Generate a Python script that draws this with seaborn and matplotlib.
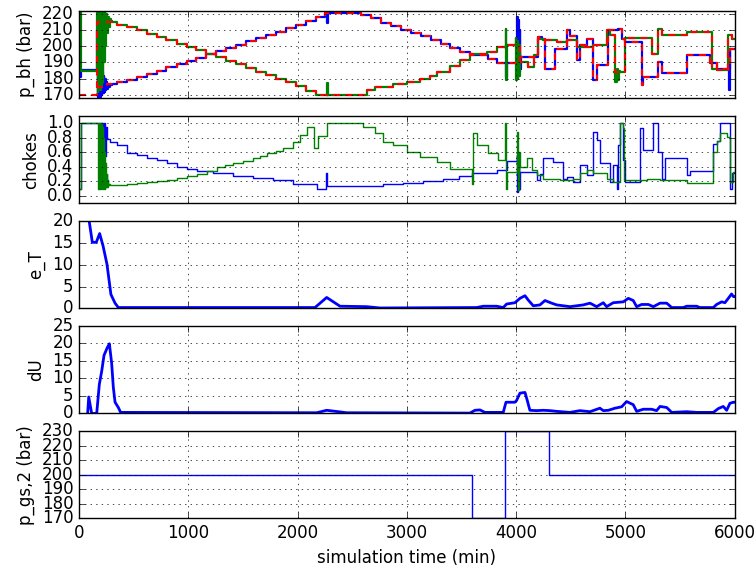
import matplotlib
matplotlib.use("Agg")
import matplotlib.pyplot as plt
import seaborn as sns

# ---------------------------------------------------------------- data
# bottom-hole pressure setpoints, well 1 and well 2 (min, bar), piecewise constant
sp1_t = [0, 165, 255, 345, 440, 530, 620, 710, 800, 895,
         985, 1075, 1165, 1255, 1345, 1440, 1530, 1620, 1710, 1800,
         1895, 1985, 2075, 2165, 2255, 2585, 2675, 2765, 2855, 2945,
         3040, 3130, 3220, 3310, 3400, 3490, 3580, 3747, 3823, 4040,
         4205, 4235, 4265, 4357, 4464, 4494, 4555, 4586, 4647, 4708,
         4738, 4845, 4937, 4967, 4999, 5150, 5165, 5303, 5333, 5562,
         5776, 5837, 5960, 6000]
sp1_v = [170, 175, 176.5, 178, 179.5, 181, 183, 185, 187, 189,
         191, 193, 195, 197, 199, 201, 203, 205, 207, 209,
         211, 213, 215.5, 218, 220.5, 219, 217, 214.5, 212.5, 210,
         208, 206, 203.5, 201.5, 199, 196.5, 194.5, 192.4, 189.4, 193.5,
         205.7, 204.7, 186.3, 198.5, 209.8, 206, 191.4, 200.6, 204.7, 179.2,
         188.4, 209.8, 210.8, 204.7, 202.6, 176.1, 181.2, 190, 183.3, 194.5,
         189.4, 186.3, 198.5, 198.5]

sp2_t = [0, 165, 255, 345, 440, 530, 620, 710, 800, 895,
         985, 1075, 1165, 1255, 1345, 1440, 1530, 1620, 1710, 1800,
         1895, 1985, 2075, 2165, 2640, 2710, 2785, 2877, 2999, 3121,
         3212, 3273, 3395, 3490, 3580, 3732, 3823, 3915, 4037, 4113,
         4160, 4205, 4250, 4372, 4464, 4555, 4708, 4830, 4860, 4906,
         4998, 5242, 5303, 5333, 5562, 5791, 5837, 5944, 5974, 6000]
sp2_v = [170, 215, 214.9, 213.3, 211.8, 209.8, 207.7, 205.6, 203.6, 201.6,
         199.5, 197.5, 195.3, 193.2, 191, 188.8, 186.6, 184.4, 182.2, 180,
         177.8, 175.4, 172.8, 170, 173, 175.1, 175.1, 176.5, 178.1, 180,
         182, 184.3, 188, 191.4, 195.5, 196.5, 199.6, 200.6, 190, 187.3,
         194.5, 204.7, 203.7, 202.6, 203.7, 199.6, 200.6, 209.8, 206.7, 184.3,
         205, 195.5, 210.8, 206.7, 208.8, 186.3, 185.3, 206.7, 204.7, 204.7]

# measured bottom-hole pressure during start-up (before the controller settles)
start1_t = [0, 10, 20, 165, 172, 178, 184, 190, 196, 202, 208, 214,
            220, 226, 232, 238, 244, 250, 258, 266, 274, 282, 290, 300]
start1_v = [222, 181, 185.3, 210, 169, 188, 168, 187, 169, 186, 170, 184,
            171, 182, 172, 180, 173, 178, 174, 177, 175, 176.5, 176, 176.5]
start2_t = [0, 18, 165, 170, 176, 182, 188, 194, 200, 206, 212, 218,
            224, 230, 236, 242, 248, 254, 262, 270, 280, 290, 300]
start2_v = [222, 185, 222, 172, 222, 174, 222, 173, 222, 176, 222, 178,
            221, 190, 221, 200, 220, 208, 218, 212, 216.5, 215.5, 214.9]

# short measured excursions away from the setpoint
spikes1_t = [[2266, 2270, 2282],
             [3904, 3908, 3914],
             [4004, 4010, 4016, 4022, 4028, 4034, 4040, 4046],
             [5944, 5952, 5960]]
spikes1_v = [[220.5, 214, 220.5],
             [189.4, 181, 189.4],
             [189.4, 218, 181, 216, 184, 210, 186, 193.5],
             [186.3, 173, 198.5]]
spikes2_t = [[2266, 2270, 2282],
             [3900, 3905, 3910, 3915],
             [3991, 3997, 4003, 4009, 4015, 4021, 4027, 4033, 4039],
             [4900, 4910, 4920, 4930, 4940, 4950]]
spikes2_v = [[170, 177.5, 170],
             [199.6, 210.8, 179, 200.6],
             [200.6, 205, 179, 203, 180, 200, 182, 195, 190],
             [184.3, 178, 186, 179, 185, 184.3]]

# choke openings
u1_t = [0, 15, 190, 198, 206, 214, 222, 230, 238, 246,
        254, 284, 345, 437, 528, 619, 711, 803, 894, 985,
        1077, 1230, 1413, 1596, 1779, 1962, 2175, 2262, 2270, 2785,
        2968, 3151, 3334, 3480, 3600, 3823, 3914, 4006, 4011, 4016,
        4021, 4026, 4031, 4036, 4189, 4220, 4250, 4341, 4433, 4463,
        4524, 4585, 4646, 4707, 4738, 4768, 4860, 4890, 4920, 4935,
        4950, 4975, 4997, 5135, 5165, 5257, 5303, 5333, 5364, 5562,
        5593, 5806, 5836, 5867, 5958, 5973, 6000]
u1_v = [0.1, 1.0, 0.6, 1.0, 0.35, 1.0, 0.5, 1.0, 0.55, 0.95,
        0.78, 0.747, 0.70, 0.596, 0.564, 0.518, 0.495, 0.45, 0.403, 0.371,
        0.344, 0.312, 0.275, 0.243, 0.22, 0.165, 0.10, 0.31, 0.137, 0.165,
        0.183, 0.21, 0.237, 0.28, 0.31, 0.355, 0.48, 0.56, 0.05, 0.5,
        0.09, 0.45, 0.1, 0.33, 0.217, 0.30, 0.516, 0.47, 0.24, 0.26,
        0.194, 0.424, 0.286, 0.885, 0.77, 0.447, 0.194, 0.42, 0.1, 0.70,
        1.0, 0.5, 0.194, 0.93, 0.63, 1.0, 0.61, 0.24, 0.516, 0.286,
        0.34, 0.72, 0.75, 1.0, 0.1, 0.31, 0.31]

u2_t = [0, 15, 177, 182, 187, 192, 197, 202, 207, 212,
        217, 222, 227, 232, 237, 242, 247, 252, 257, 262,
        268, 275, 284, 345, 437, 528, 619, 711, 803, 894,
        985, 1077, 1168, 1260, 1340, 1413, 1500, 1596, 1660, 1718,
        1800, 1871, 1962, 2023, 2084, 2150, 2185, 2267, 2600, 2709,
        2785, 2877, 2999, 3121, 3273, 3396, 3594, 3609, 3640, 3746,
        3838, 3899, 3905, 3914, 4006, 4016, 4026, 4036, 4097, 4143,
        4189, 4250, 4402, 4524, 4585, 4646, 4707, 4830, 4890, 4951,
        4975, 4987, 5196, 5318, 5562, 5806, 5836, 5867, 5928, 5958,
        5988, 6000]
u2_v = [0.1, 1.0, 0.1, 1.0, 0.1, 1.0, 0.1, 1.0, 0.1, 0.95,
        0.1, 0.8, 0.1, 0.6, 0.1, 0.45, 0.12, 0.3, 0.13, 0.22,
        0.15, 0.17, 0.15, 0.155, 0.165, 0.178, 0.19, 0.205, 0.225, 0.25,
        0.275, 0.30, 0.345, 0.395, 0.42, 0.45, 0.48, 0.518, 0.55, 0.596,
        0.62, 0.656, 0.747, 0.84, 0.945, 0.66, 0.82, 1.0, 0.953, 0.862,
        0.747, 0.70, 0.61, 0.54, 0.47, 0.378, 0.17, 0.86, 0.70, 0.585,
        0.49, 1.0, 0.1, 0.33, 0.88, 0.08, 0.6, 0.40, 0.516, 0.355,
        0.286, 0.24, 0.217, 0.24, 0.31, 0.355, 0.31, 0.24, 0.19, 1.0,
        0.93, 0.217, 0.24, 0.217, 0.184, 0.61, 0.75, 0.86, 0.816, 0.19,
        0.33, 0.33]

# tracking error
eT_t = [94, 122, 158, 189, 220, 256, 292, 330, 360, 2160,
        2267, 2389, 2632, 2755, 3640, 3700, 3823, 3883, 3914, 3990,
        4036, 4082, 4112, 4158, 4219, 4265, 4326, 4372, 4494, 4616,
        4677, 4738, 4799, 4829, 4890, 4982, 5028, 5073, 5104, 5150,
        5211, 5257, 5318, 5379, 5425, 5531, 5562, 5653, 5683, 5806,
        5836, 5882, 5912, 5943, 5973, 5990, 6000]
eT_v = [19.8, 15.1, 15.1, 17.1, 14.3, 10.1, 3.2, 1.2, 0.2, 0.2,
        2.5, 0.5, 0.4, 0.1, 0.2, 0.5, 0.5, 0.2, 1.0, 1.3,
        2.3, 2.9, 1.9, 0.6, 0.8, 1.8, 1.2, 0.8, 0.4, 0.8,
        1.2, 0.4, 1.3, 0.4, 1.3, 1.5, 2.3, 1.8, 0.4, 0.9,
        0.9, 0.4, 1.2, 1.2, 0.2, 0.2, 0.5, 0.5, 0.2, 0.2,
        0.9, 1.5, 1.3, 2.3, 3.3, 2.7, 2.7]

# control move size
dU_t = [79, 89, 116, 162, 186, 208, 229, 259, 278, 299,
        314, 330, 360, 381, 2175, 2267, 2374, 2450, 3578, 3624,
        3670, 3716, 3883, 3908, 3990, 4005, 4036, 4082, 4103, 4127,
        4188, 4250, 4311, 4372, 4494, 4585, 4677, 4768, 4799, 4845,
        4906, 4967, 5012, 5073, 5104, 5165, 5241, 5287, 5318, 5379,
        5425, 5562, 5653, 5806, 5852, 5897, 5928, 5958, 5990, 6000]
dU_v = [0, 4.7, 0, 0, 8.3, 12.1, 16.6, 18.8, 19.9, 14.3,
        7.5, 3.2, 1.7, 0.3, 0.2, 0.9, 0.5, 0.2, 0.1, 0.9,
        1.0, 0.3, 0.3, 3.2, 3.2, 3.7, 5.8, 6.0, 3.7, 0.9,
        0.8, 0.9, 0.8, 0.6, 0.3, 0.8, 0.5, 1.5, 0.8, 0.9,
        1.5, 1.9, 3.4, 2.5, 0.6, 1.2, 1.2, 0.8, 2.0, 1.7,
        0.3, 0.5, 0.3, 0.3, 1.4, 2.0, 0.9, 2.9, 3.2, 3.2]

# gas-lift source pressure, well 2
pgs_t = [0, 3600, 3900, 4300, 6000]
pgs_v = [200, 170, 230, 200, 200]

# ---------------------------------------------------------------- style
plt.style.use("classic")
plt.rcParams.update({
    "figure.facecolor": "white",
    "savefig.facecolor": "white",
    "font.family": ["DejaVu Sans"],
    "font.size": 12,
    "grid.color": "k",
    "grid.linestyle": ":",
    "grid.linewidth": 0.5,
})

BLUE, GREEN, RED = (0, 0, 1), (0, 0.5, 0), (1, 0, 0)


def steps(ax, t, v, **kw):
    sns.lineplot(x=t, y=v, ax=ax, estimator=None, sort=False,
                 drawstyle="steps-post", **kw)
    return ax.lines[-1]


def curve(ax, t, v, **kw):
    sns.lineplot(x=t, y=v, ax=ax, estimator=None, sort=False, **kw)
    return ax.lines[-1]


fig, axes = plt.subplots(5, 1, sharex=True, figsize=(7.56, 5.69))
fig.subplots_adjust(left=0.1045, right=0.9716, top=0.981, bottom=0.0888,
                    hspace=0.2)

# --- bottom-hole pressures
ax = axes[0]
bh1_t = start1_t + [t for t in sp1_t if t > 300]
bh1_v = start1_v + [v for t, v in zip(sp1_t, sp1_v) if t > 300]
bh2_t = start2_t + [t for t in sp2_t if t > 300]
bh2_v = start2_v + [v for t, v in zip(sp2_t, sp2_v) if t > 300]
steps(ax, bh1_t, bh1_v, color=BLUE, linewidth=1.6)
for t, v in zip(spikes1_t, spikes1_v):
    steps(ax, t, v, color=BLUE, linewidth=1.6)
steps(ax, bh2_t, bh2_v, color=GREEN, linewidth=1.6)
for t, v in zip(spikes2_t, spikes2_v):
    steps(ax, t, v, color=GREEN, linewidth=1.6)
for t, v in ((sp1_t, sp1_v), (sp2_t, sp2_v)):
    ln = steps(ax, t, v, color=RED, linewidth=1.5)
    ln.set_dashes([5, 4])
ax.set_ylim(168, 221.7)
ax.set_yticks([170, 180, 190, 200, 210, 220])
ax.set_ylabel("p_bh (bar)")

# --- choke openings
ax = axes[1]
steps(ax, u1_t, u1_v, color=BLUE, linewidth=1)
steps(ax, u2_t, u2_v, color=GREEN, linewidth=1)
ax.set_ylim(-0.1, 1.1)
ax.set_yticks([0.0, 0.2, 0.4, 0.6, 0.8, 1.0])
ax.set_ylabel("chokes")

# --- tracking error
ax = axes[2]
curve(ax, eT_t, eT_v, color=BLUE, linewidth=2)
ax.set_ylim(0, 20)
ax.set_yticks([0, 5, 10, 15, 20])
ax.set_ylabel("e_T")

# --- move size
ax = axes[3]
curve(ax, dU_t, dU_v, color=BLUE, linewidth=2)
ax.set_ylim(0, 25)
ax.set_yticks([0, 5, 10, 15, 20, 25])
ax.set_ylabel("dU")

# --- gas-lift pressure
ax = axes[4]
steps(ax, pgs_t, pgs_v, color=BLUE, linewidth=1)
ax.set_ylim(170, 230)
ax.set_yticks([170, 180, 190, 200, 210, 220, 230])
ax.set_ylabel("p_gs,2 (bar)")
ax.set_xlabel("simulation time (min)")

for ax in axes:
    ax.set_xlim(0, 6000)
    ax.set_xticks([0, 1000, 2000, 3000, 4000, 5000, 6000])
    ax.grid(True)
    ax.tick_params(direction="in", top=True, right=True)
for ax in axes[:-1]:
    ax.set_xlabel("")
    ax.tick_params(labelbottom=False)

fig.savefig("out.png", dpi=100)
